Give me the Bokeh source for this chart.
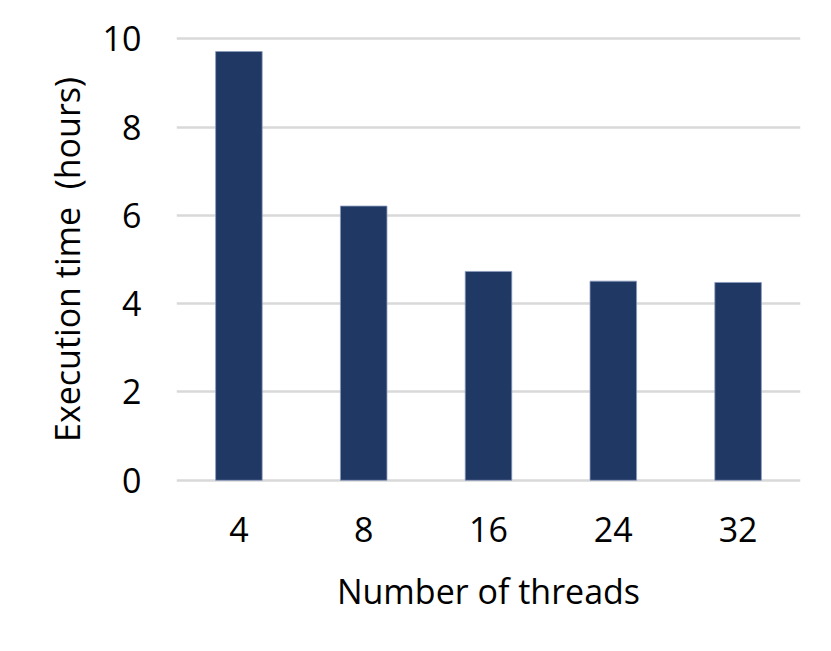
from bokeh.plotting import figure
from bokeh.models import FactorRange, Range1d, ColumnDataSource, FixedTicker
from bokeh.embed import file_html
from bokeh.resources import INLINE

threads = ["4", "8", "16", "24", "32"]
exec_hours = [9.71, 6.21, 4.73, 4.51, 4.48]
y_ticks = [0, 2, 4, 6, 8, 10]

FONT = "Open Sans"
FS = "34px"

src = ColumnDataSource(data=dict(threads=threads, hours=exec_hours))

p = figure(
    x_range=FactorRange(*threads, range_padding=0),
    y_range=Range1d(-0.05, 10.05),
    width=815, height=635,
    output_backend="svg", toolbar_location=None,
    min_border_left=176, min_border_right=15,
    min_border_top=36, min_border_bottom=153,
)
p.vbar(x="threads", top="hours", width=0.373, source=src,
       fill_color="#203864", line_color="#8a9bbd", line_width=0.8)

p.outline_line_color = None
p.background_fill_color = "white"
p.border_fill_color = "white"

p.xgrid.grid_line_color = None
p.ygrid.grid_line_color = "#d9d9d9"
p.ygrid.grid_line_width = 2.5
p.ygrid.level = "underlay"
p.yaxis.ticker = FixedTicker(ticks=y_ticks)

for ax in (p.xaxis[0], p.yaxis[0]):
    ax.axis_line_color = None
    ax.major_tick_line_color = None
    ax.minor_tick_line_color = None
    ax.major_tick_out = 0
    ax.major_tick_in = 0
    ax.minor_tick_out = 0
    ax.minor_tick_in = 0
    ax.major_label_text_font = FONT
    ax.major_label_text_font_size = FS
    ax.major_label_text_color = "black"
    ax.axis_label_text_font = FONT
    ax.axis_label_text_font_size = FS
    ax.axis_label_text_font_style = "normal"
    ax.axis_label_text_color = "black"

p.xaxis.axis_label = "Number of threads"
p.yaxis.axis_label = "Execution time \u00a0(hours)"
p.xaxis.major_label_standoff = 34
p.yaxis.major_label_standoff = 35
p.xaxis.axis_label_standoff = 23
p.yaxis.axis_label_standoff = 10

open("out.html", "w").write(file_html(p, INLINE))
